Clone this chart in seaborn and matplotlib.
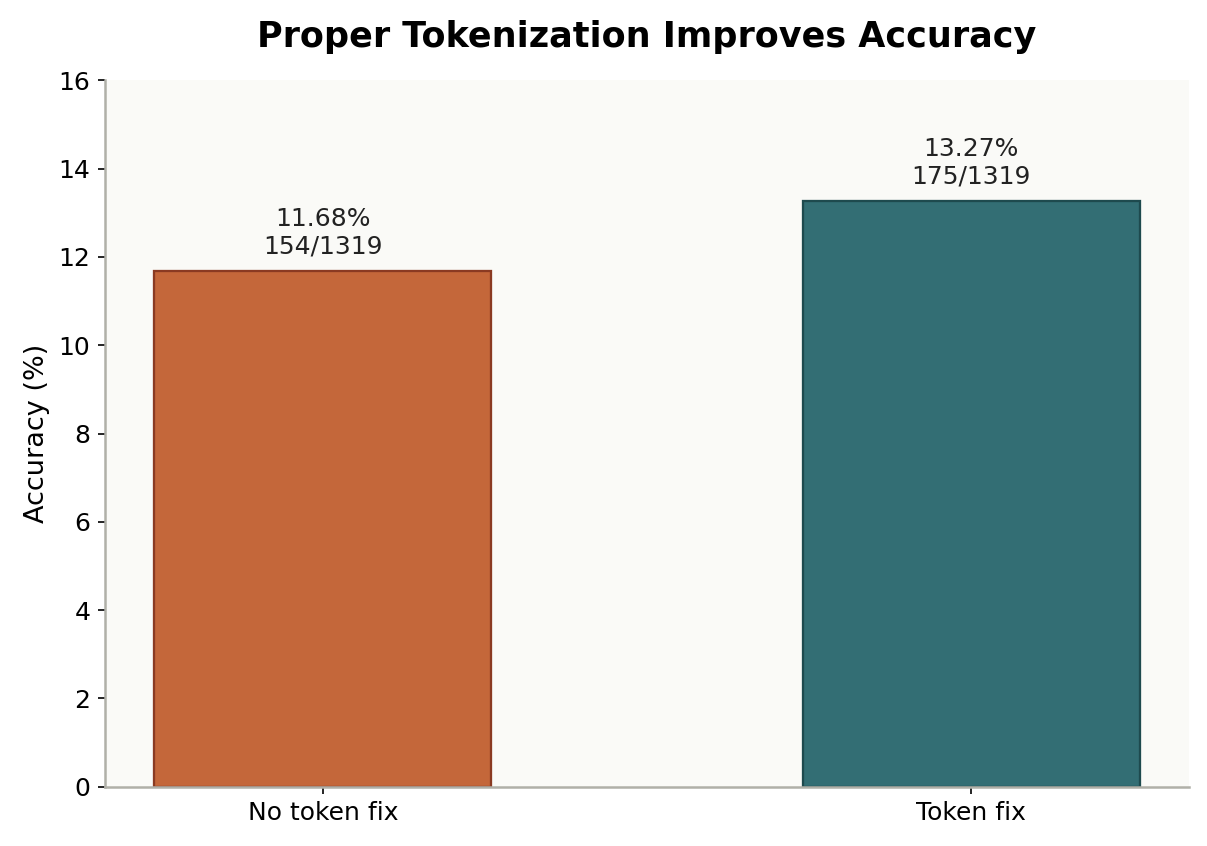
import pandas as pd
import numpy as np
import seaborn as sns
import matplotlib.pyplot as plt

# chart values
conditions = ['No token fix', 'Token fix']
accuracy = [11.68, 13.27]
correct = [154, 175]
total = [1319, 1319]
bar_colors = ['#C4673A', '#336E74']
edge_colors = ['#8A3A22', '#1E4A4E']

df = pd.DataFrame({'condition': conditions, 'accuracy': accuracy})

sns.set_style('ticks')
plt.rcParams['font.family'] = ['DejaVu Sans']

fig, ax = plt.subplots(figsize=(8.047, 5.64), dpi=150)
ax.set_facecolor('#FAFAF7')

sns.barplot(data=df, x='condition', y='accuracy', hue='condition',
            palette=bar_colors, saturation=1, width=0.52, legend=False, ax=ax)

# edge colours and value labels
for patch, ec, acc, c, t in zip(ax.patches, edge_colors, accuracy, correct, total):
    patch.set_edgecolor(ec)
    patch.set_linewidth(1.1)
    ax.annotate(f'{acc:.2f}%\n{c}/{t}',
                (patch.get_x() + patch.get_width() / 2, patch.get_height()),
                xytext=(0, 6), textcoords='offset points',
                ha='center', va='bottom', fontsize=12, color='#222222')

ax.set_xlim(-0.336, 1.336)
ax.set_ylim(0, 16)
ax.set_xlabel('')
ax.set_ylabel('Accuracy (%)', fontsize=13, color='black')
ax.set_title('Proper Tokenization Improves Accuracy', fontsize=16.8,
             fontweight='bold', pad=16, color='black')
ax.tick_params(axis='both', labelsize=12, color='black', labelcolor='black')

sns.despine(ax=ax)
for side in ['left', 'bottom']:
    ax.spines[side].set_color('#B0B0A8')
    ax.spines[side].set_linewidth(1.2)

fig.subplots_adjust(left=0.087, right=0.985, top=0.905, bottom=0.07)
plt.savefig('out.png', dpi=150)
